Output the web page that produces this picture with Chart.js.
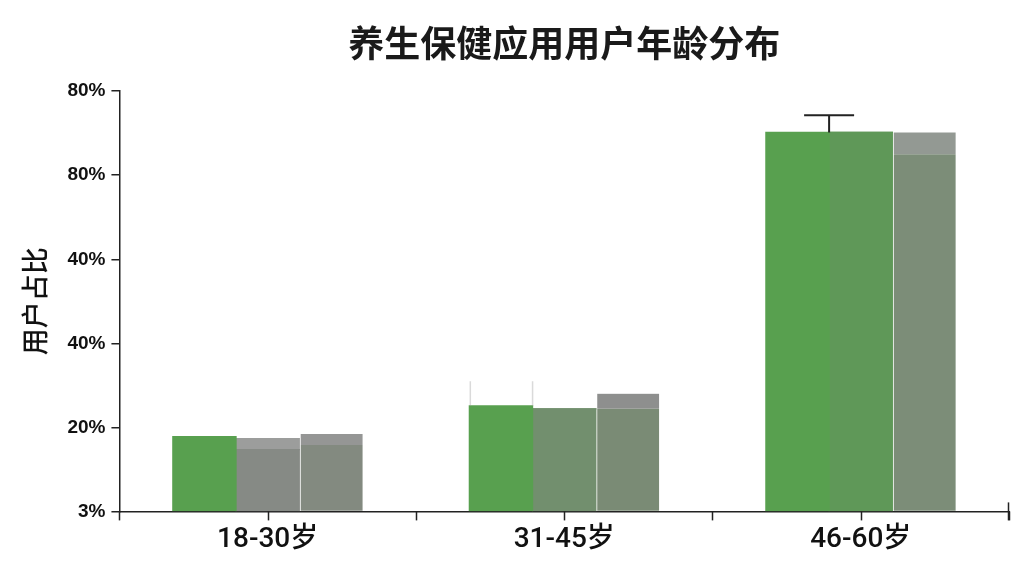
<!DOCTYPE html>
<html>
<head>
<meta charset="utf-8">
<script src="https://cdn.jsdelivr.net/npm/chart.js@4/dist/chart.umd.min.js"></script>
<style>
  html, body { margin: 0; padding: 0; background: #fff; }
  #wrap { width: 1024px; height: 576px; }
</style>
</head>
<body>
<div id="wrap"><canvas id="ageChart" width="1024" height="576"></canvas></div>
<script>
/* ── data (y values are in tick-step units: 0 = "3%", 1 = "20%", ...) ── */
const categories = ["18-30岁", "31-45岁", "46-60岁"];
const yTickLabels = ["3%", "20%", "40%", "40%", "80%", "80%"];

const seriesA = [0.89, 1.255, 4.51];          // green bars
const seriesBBase = [0.735, 1.22, 4.51];      // second bar body
const seriesBBand = [0.13, 0, 0];             // lighter cap of second bar
const seriesCBase = [0.79, 1.22, 4.25];       // third bar body
const seriesCBand = [0.13, 0.18, 0.26];       // lighter cap of third bar
const errorTop = [null, null, 4.715];         // whisker on first green bar
const ghostTop = [null, 1.55, null];          // faint guide lines above group 2

const CJK = "'Noto Sans CJK SC', sans-serif";
const GREEN = "#58a04f";
const GREY_GREEN = "#728f6e";

const colorsB = ["#868a85", GREY_GREEN, "#5f9858"];
const colorsBBand = ["#9c9d9c", GREY_GREEN, "#5f9858"];
const colorsC = ["#838a80", "#7a8b75", "#7c8d78"];
const colorsCBand = ["#959695", "#8e8f8e", "#939993"];

/* ── boundary/center ticks on x-axis, whisker and faint guides ── */
const extrasPlugin = {
    id: "extras",
    afterDraw(chart) {
        const c = chart.ctx;
        const x = chart.scales.x, y = chart.scales.y;
        const bottom = chart.chartArea.bottom;
        c.save();
        c.strokeStyle = "#222";
        c.lineWidth = 1.5;
        for (let v = -0.5; v <= categories.length - 0.5; v += 0.5) {
            const px = Math.round(x.getPixelForValue(v)) + 0.5;
            c.beginPath();
            c.moveTo(px, bottom);
            c.lineTo(px, bottom + 9);
            c.stroke();
        }
        // end marker at the right edge
        const rx = Math.round(x.getPixelForValue(categories.length - 0.5)) - 0.5;
        c.beginPath(); c.moveTo(rx, bottom - 9); c.lineTo(rx, bottom + 9); c.stroke();

        const metaA = chart.getDatasetMeta(0);
        errorTop.forEach((v, i) => {
            if (v == null) return;
            const bar = metaA.data[i];
            const ex = bar.x + bar.width / 2;
            const ey = y.getPixelForValue(v);
            c.strokeStyle = "#222";
            c.lineWidth = 2;
            c.beginPath();
            c.moveTo(ex, bar.y); c.lineTo(ex, ey);
            c.moveTo(ex - 25, ey); c.lineTo(ex + 25, ey);
            c.stroke();
        });
        ghostTop.forEach((v, i) => {
            if (v == null) return;
            const bar = metaA.data[i];
            const gy = y.getPixelForValue(v);
            c.strokeStyle = "rgba(150,150,150,0.35)";
            c.lineWidth = 1.5;
            c.beginPath();
            c.moveTo(bar.x - bar.width / 2 + 1, gy); c.lineTo(bar.x - bar.width / 2 + 1, bar.y);
            c.moveTo(bar.x + bar.width / 2, gy); c.lineTo(bar.x + bar.width / 2, bar.y);
            c.stroke();
        });
        c.restore();
    }
};

new Chart(document.getElementById("ageChart"), {
    type: "bar",
    data: {
        labels: categories,
        datasets: [
            { label: "A", data: seriesA, stack: "a", backgroundColor: GREEN },
            { label: "B", data: seriesBBase, stack: "b", backgroundColor: colorsB },
            { label: "B+", data: seriesBBand, stack: "b", backgroundColor: colorsBBand },
            { label: "C", data: seriesCBase, stack: "c", backgroundColor: colorsC,
              borderColor: "#fff", borderWidth: { left: 2, top: 0, right: 0, bottom: 0 }, borderSkipped: false },
            { label: "C+", data: seriesCBand, stack: "c", backgroundColor: colorsCBand,
              borderColor: "#fff", borderWidth: { left: 2, top: 0, right: 0, bottom: 0 }, borderSkipped: false }
        ]
    },
    options: {
        responsive: false,
        animation: false,
        devicePixelRatio: 1,
        layout: { padding: { left: 15, right: 15, top: 0, bottom: 15 } },
        datasets: { bar: { categoryPercentage: 0.64, barPercentage: 1.0, borderWidth: 0, inflateAmount: 0.6 } },
        plugins: {
            legend: { display: false },
            tooltip: { enabled: false },
            title: {
                display: true, fullSize: false, text: "养生保健应用用户年龄分布", color: "#1a1a1a",
                font: { family: CJK, size: 36, weight: "bold" },
                padding: { top: 22, bottom: 26 }
            }
        },
        scales: {
            x: {
                stacked: true,
                border: { display: true, color: "#222", width: 1.5 },
                grid: { display: false },
                ticks: { color: "#111", font: { family: "Roboto, 'Noto Sans CJK SC', sans-serif", size: 28, weight: "500" }, padding: 4 }
            },
            y: {
                stacked: true,
                min: 0, max: yTickLabels.length - 1,
                border: { display: true, color: "#222", width: 1.5 },
                grid: { drawOnChartArea: false, color: "#222", tickLength: 8, lineWidth: 1.5 },
                ticks: {
                    stepSize: 1, color: "#111", padding: 6,
                    font: { family: "'Liberation Sans', sans-serif", size: 19, weight: "bold" },
                    callback: (v) => yTickLabels[v]
                },
                title: {
                    display: true, text: "用户占比", color: "#111",
                    font: { family: CJK, size: 27, weight: "500" }, padding: { top: 4, bottom: 10 }
                }
            }
        }
    },
    plugins: [extrasPlugin]
});
</script>
</body>
</html>
